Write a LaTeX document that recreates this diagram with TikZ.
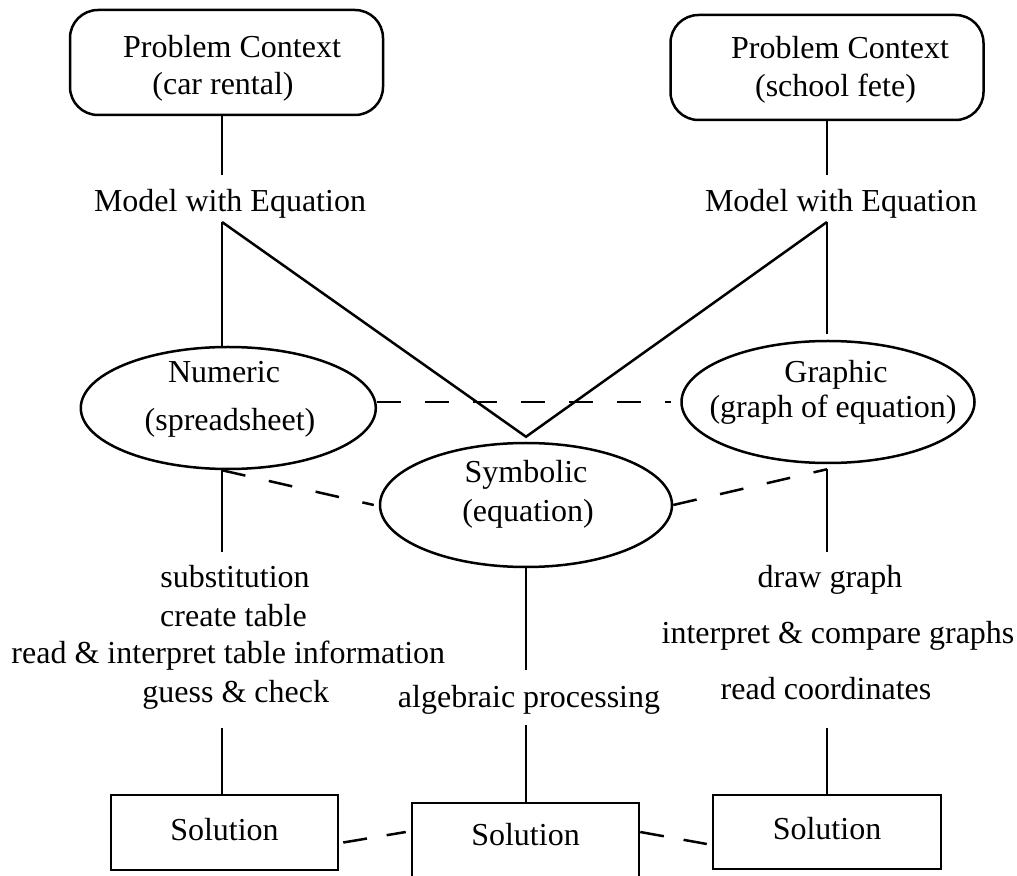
\documentclass[tikz,border=0pt]{standalone}
\usepackage{fontspec}
\setmainfont{Liberation Serif}
\usetikzlibrary{shapes.geometric}
\begin{document}
\begin{tikzpicture}[x=0.5pt,y=-0.5pt,
  line width=1.25pt,
  every node/.style={font=\fontsize{16pt}{19pt}\selectfont},
  txt/.style={inner sep=0pt, outer sep=0pt, text height=11pt, text depth=3.5pt, anchor=base},
  ctxbox/.style={draw, rounded corners=14pt, minimum width=156.5pt, minimum height=52.5pt, inner sep=0pt},
  ellbox/.style={draw, ellipse, inner sep=0pt},
  solbox/.style={draw, rectangle, minimum width=113.5pt, minimum height=37.5pt, inner sep=0pt, text height=11pt, text depth=3.5pt},
  dlink/.style={dash pattern=on 12pt off 12pt},
  sdlink/.style={dash pattern=on 12pt off 10pt}
]
\useasboundingbox (0,0) rectangle (1017,876);

% columns
\coordinate (colL) at (222,0);
\coordinate (colR) at (827,0);

% context boxes
\node[ctxbox] (ctxL) at (226.5,62.5) {};
\node[ctxbox] (ctxR) at (827,67.5) {};
\node[txt] (ctxLa) at (232,58) {Problem Context};
\node[txt] (ctxLb) at (223,95) {(car rental)};
\node[txt] (ctxRa) at (840,59) {Problem Context};
\node[txt] (ctxRb) at (835.5,97) {(school fete)};

\node[txt] (modL) at (230,212) {Model with Equation};
\node[txt] (modR) at (841,212) {Model with Equation};

% ellipses
\node[ellbox, minimum width=147.5pt, minimum height=61pt] (num) at (228.3,408) {};
\node[ellbox, minimum width=146.5pt, minimum height=61pt] (gra) at (828,402) {};
\node[ellbox, minimum width=146pt, minimum height=62pt] (sym) at (526,505) {};
\node[txt] (numA) at (224,383) {Numeric};
\node[txt] (numB) at (230,431) {(spreadsheet)};
\node[txt] (graA) at (836,383) {Graphic};
\node[txt] (graB) at (833,418) {(graph of equation)};
\node[txt] (symA) at (526,483) {Symbolic};
\node[txt] (symB) at (528,522) {(equation)};

% process texts
\node[txt] (subs) at (235,588) {substitution};
\node[txt] (ctab) at (233.5,626) {create table};
\node[txt] (rdtab) at (228.3,663) {read \& interpret table information};
\node[txt] (gues) at (235.8,702) {guess \& check};
\node[txt] (alg) at (529,707) {algebraic processing};
\node[txt] (drw) at (830,588) {draw graph};
\node[txt] (cmp) at (838,643) {interpret \& compare graphs};
\node[txt] (rco) at (826,699) {read coordinates};

% solutions
\node[solbox] (solL) at (224.5,832.5) {Solution};
\node[solbox, minimum height=44pt, text depth=13pt] (solM) at (525.5,847) {Solution};
\node[solbox, minimum width=114pt, minimum height=37pt] (solR) at (827,832) {Solution};

% connectors
\draw (ctxL.south -| colL) -- ([yshift=7.5pt]modL.north -| colL);
\draw ([yshift=-1.5pt]modL.south -| colL) -- (num.north -| colL);
\draw ([yshift=-1.5pt]modL.south -| colL) -- ([yshift=2.5pt]sym.north) -- ([yshift=-1.5pt]modR.south -| colR);
\draw (ctxR.south -| colR) -- ([yshift=7.5pt]modR.north -| colR);
\draw ([yshift=-1.5pt]modR.south -| colR) -- ([yshift=3pt]gra.north -| colR);

\draw[dlink] ([yshift=3pt]num.east) -- ([xshift=-4.5pt]gra.west);
\draw[dlink] (num.south -| colL) -- ([xshift=-2.5pt]sym.west);
\draw[dlink] (sym.east) -- ([yshift=-2.5pt]gra.south -| colR);

\draw (num.south -| colL) -- ([yshift=7pt]subs.north -| colL);
\draw ([yshift=-2.5pt]gra.south -| colR) -- ([yshift=7pt]drw.north -| colR);
\draw (sym.south) -- ([yshift=7.5pt]alg.north -| sym.south);

\draw ([yshift=-9.5pt]gues.south -| colL) -- (solL.north -| colL);
\draw ([yshift=-5.5pt]alg.south -| sym.south) -- (solM.north -| sym.south);
\draw ([yshift=-11pt]rco.south -| colR) -- (solR.north -| colR);

\draw[sdlink] ([xshift=2pt,yshift=-5pt]solL.east) -- ([xshift=-2.5pt,yshift=7.5pt]solM.west);
\draw[sdlink] ([yshift=7.5pt]solM.east) -- ([xshift=-2.5pt,yshift=-6pt]solR.west);
\end{tikzpicture}
\end{document}
